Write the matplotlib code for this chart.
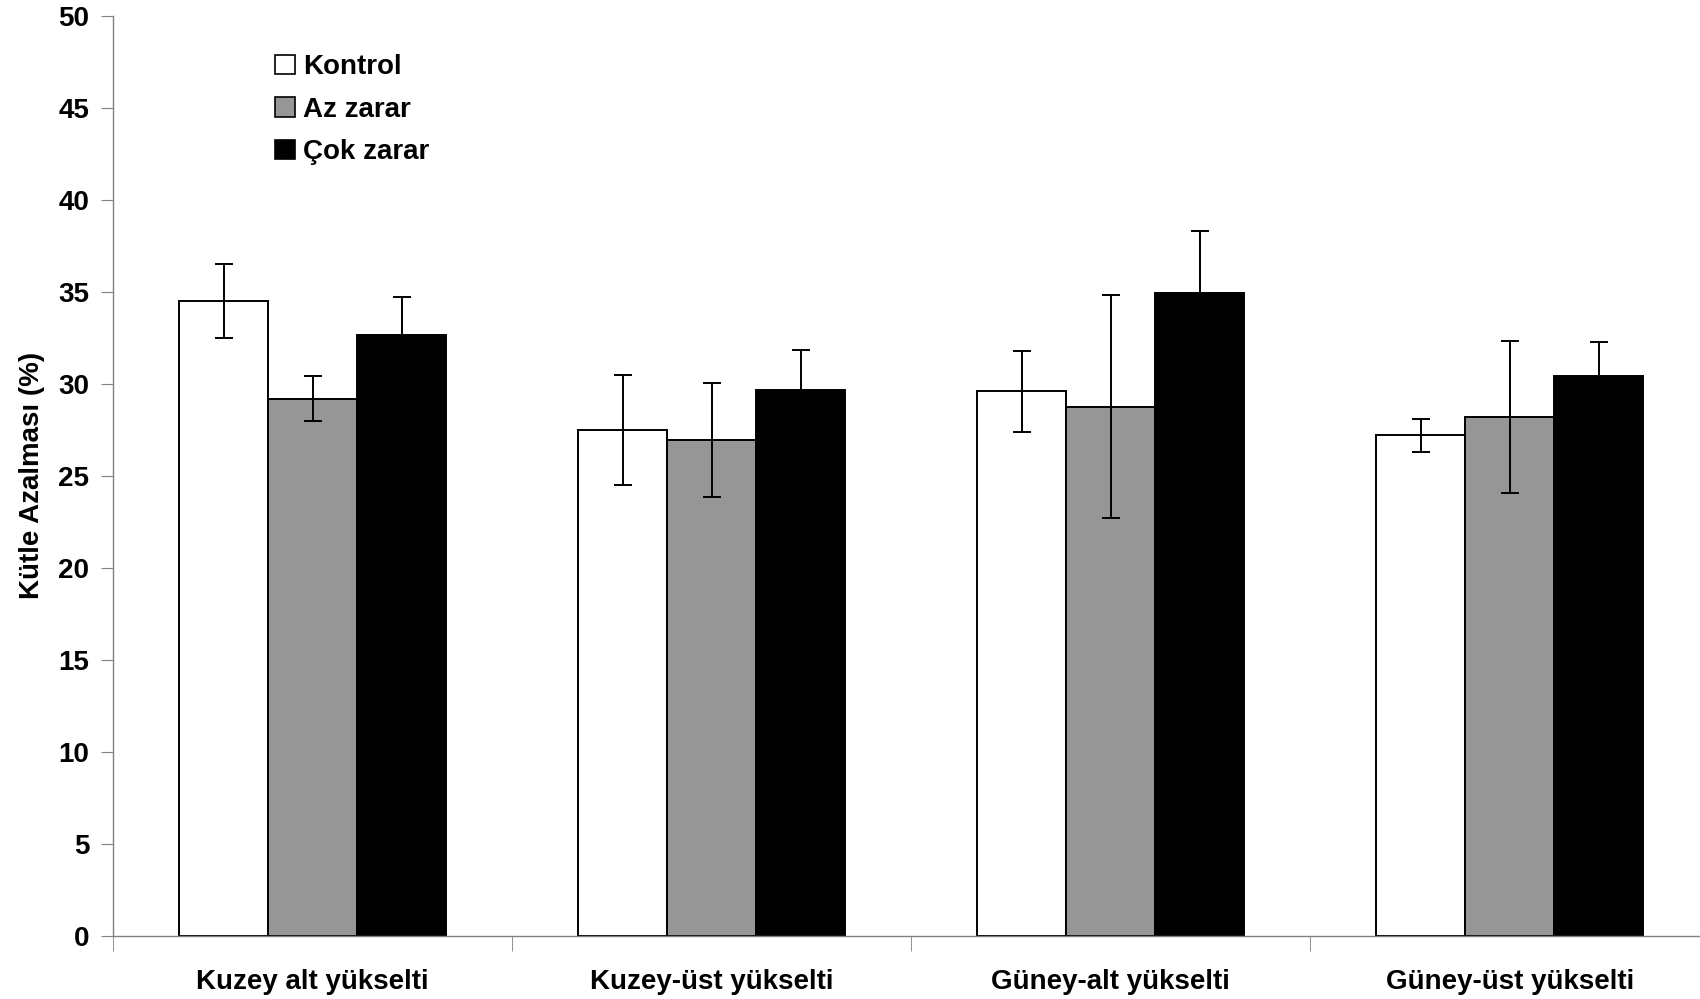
import numpy as np
import matplotlib
matplotlib.use("Agg")
import matplotlib.pyplot as plt
from matplotlib.patches import Patch

plt.rcParams["font.family"] = ["Liberation Sans", "DejaVu Sans"]
plt.rcParams["font.weight"] = "bold"

# mass loss (%) per elevation site and damage class, mean and error
sites = ["Kuzey alt yükselti", "Kuzey-üst yükselti",
         "Güney-alt yükselti", "Güney-üst yükselti"]
groups = ["Kontrol", "Az zarar", "Çok zarar"]
kontrol = [34.5, 27.5, 29.6, 27.2]
kontrol_err = [2.0, 3.0, 2.2, 0.9]
az_zarar = [29.2, 26.95, 28.75, 28.2]
az_zarar_err = [1.2, 3.1, 6.05, 4.15]
cok_zarar = [32.65, 29.65, 34.95, 30.4]
cok_zarar_err = [2.05, 2.2, 3.35, 1.85]

means = [kontrol, az_zarar, cok_zarar]
errs = [kontrol_err, az_zarar_err, cok_zarar_err]
fills = ["white", "#969696", "black"]

fig = plt.figure(figsize=(17, 9.99), dpi=100)
ax = fig.add_axes([0.0665, 0.0631, 0.939, 0.9212])

x = np.arange(len(sites))
w = 0.2228
for i, (m, e, c) in enumerate(zip(means, errs, fills)):
    ax.bar(x + (i - 1) * w, m, w, color=c, edgecolor="black", linewidth=1.4,
           yerr=e, capsize=6.5,
           error_kw=dict(ecolor="black", elinewidth=1.4, capthick=1.4),
           zorder=2)

ax.set_xlim(-0.5, 3.5)
ax.set_ylim(0, 50)
ax.set_yticks(np.arange(0, 51, 5))
ax.set_xticks(x)
ax.set_xticklabels(sites, fontsize=20, fontweight="bold")
# group separators as minor ticks on the category axis
ax.set_xticks(np.arange(-0.5, 3.0, 1.0), minor=True)
ax.tick_params(axis="x", which="major", length=0, pad=24)
ax.tick_params(axis="x", which="minor", length=11, color="#808080",
               direction="out")
ax.tick_params(axis="y", length=9, color="#808080", direction="out",
               labelsize=20, pad=8)
for lab in ax.get_yticklabels():
    lab.set_fontweight("bold")

for side in ("top", "right"):
    ax.spines[side].set_visible(False)
for side in ("left", "bottom"):
    ax.spines[side].set_color("#808080")
    ax.spines[side].set_linewidth(1.0)

ax.set_ylabel("Kütle Azalması (%)", fontsize=20, fontweight="bold",
              labelpad=10)

handles = [Patch(facecolor=c, edgecolor="black", linewidth=1.2) for c in fills]
ax.legend(handles, groups, loc="upper left", frameon=False,
          bbox_to_anchor=(0.1618, 0.946), bbox_transform=fig.transFigure,
          borderaxespad=0, borderpad=0, handlelength=0.7, handleheight=0.7,
          handletextpad=0.3, labelspacing=0.6,
          prop=dict(size=20, weight="bold"))

fig.savefig("out.png", dpi=100)
